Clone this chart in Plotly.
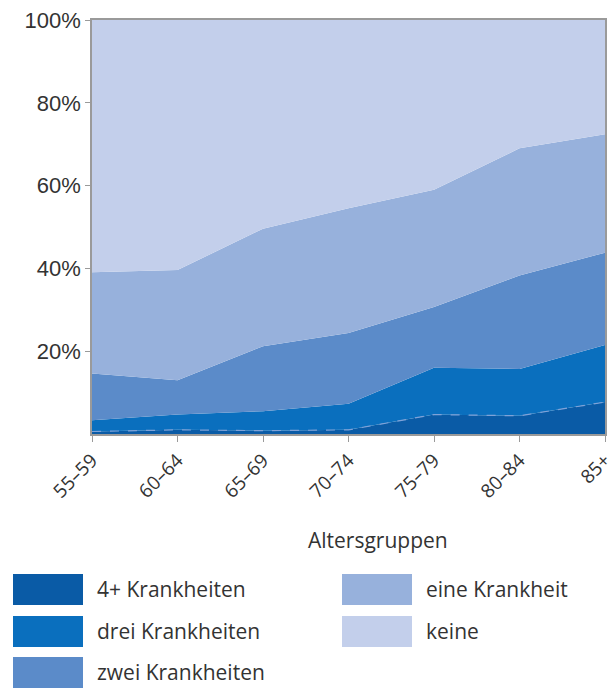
import plotly.graph_objects as go

# Altersgruppen und Anteile (in %) je Anzahl Krankheiten
age_groups = ['55–59', '60–64', '65–69', '70–74', '75–79', '80–84', '85+']

vier_plus = [0.6, 1.0, 0.8, 1.0, 4.7, 4.4, 7.7]
drei = [2.7, 3.7, 4.7, 6.3, 11.3, 11.3, 13.8]
zwei = [11.3, 8.3, 15.7, 17.1, 14.7, 22.6, 22.3]
eine = [24.5, 26.6, 28.4, 30.1, 28.3, 30.7, 28.6]
keine = [61.5, 60.4, 50.4, 45.5, 41.0, 31.0, 27.6]

series_names = ['4+ Krankheiten', 'drei Krankheiten', 'zwei Krankheiten',
                'eine Krankheit', 'keine']
series_values = [vier_plus, drei, zwei, eine, keine]
colors = ['#0a5ba6', '#0a6fbe', '#5b8bc9', '#97b1dc', '#c3cfeb']

W, H = 615, 688
ML, MR, MT, MB = 92, 10, 20, 254
PW = W - ML - MR
PH = H - MT - MB


def px_x(x):
    return (x - ML) / PW


def px_y(y):
    return (H - MB - y) / PH


fig = go.Figure()

for i, (name, vals) in enumerate(zip(series_names, series_values)):
    if i == 0:
        line = dict(width=1.2, color='#7fa2d8', dash='dash')
    else:
        line = dict(width=0, color=colors[i])
    fig.add_trace(go.Scatter(
        x=age_groups, y=vals, name=name,
        mode='lines', stackgroup='one',
        fillcolor=colors[i], line=line,
        showlegend=False))

# legend drawn by hand: big square swatches in two columns
legend_pos = [(13, 574), (13, 616), (13, 657), (342, 574), (342, 616)]
for (sx, sy), name, col in zip(legend_pos, series_names, colors):
    fig.add_shape(type='rect', xref='paper', yref='paper',
                  x0=px_x(sx), x1=px_x(sx + 70),
                  y0=px_y(sy + 31), y1=px_y(sy),
                  fillcolor=col, line=dict(width=0))
    fig.add_annotation(text=name, xref='paper', yref='paper',
                       x=px_x(sx + 82), y=px_y(sy + 15),
                       xanchor='left', yanchor='middle', showarrow=False,
                       font=dict(size=21, color='#333333'))

fig.add_annotation(text='Altersgruppen', xref='paper', yref='paper',
                   x=px_x(378), y=px_y(540), xanchor='center', yanchor='middle',
                   showarrow=False, font=dict(size=21, color='#333333'))

fig.update_xaxes(range=[0, 6], tickangle=-45, showline=True, linecolor='#9a9a9a',
                 linewidth=1.5, mirror=True, ticks='outside', ticklen=6,
                 tickcolor='#9a9a9a', showgrid=False, zeroline=False,
                 automargin=False, ticklabeloverflow='allow',
                 tickfont=dict(size=19, color='#333333'))
fig.update_yaxes(range=[0, 100], tickvals=[20, 40, 60, 80, 100],
                 ticktext=['20%', '40%', '60%', '80%', '100%'],
                 showline=True, linecolor='#9a9a9a', linewidth=1.5, mirror=True,
                 ticks='outside', ticklen=5, tickcolor='#9a9a9a',
                 showgrid=False, zeroline=False, automargin=False,
                 ticklabeloverflow='allow',
                 tickfont=dict(family='Liberation Sans, Arial', size=22,
                               color='#333333'))

fig.update_layout(
    width=W, height=H,
    margin=dict(l=ML, r=MR, t=MT, b=MB),
    paper_bgcolor='white', plot_bgcolor='white',
    font=dict(family='Open Sans, Arial', color='#333333'),
    showlegend=False)

# drop the default page margin so the figure fills the window exactly
fig.write_html('out.html', config={'displayModeBar': False},
               post_script="document.body.style.margin='0';"
                           "document.body.style.overflow='hidden';")
